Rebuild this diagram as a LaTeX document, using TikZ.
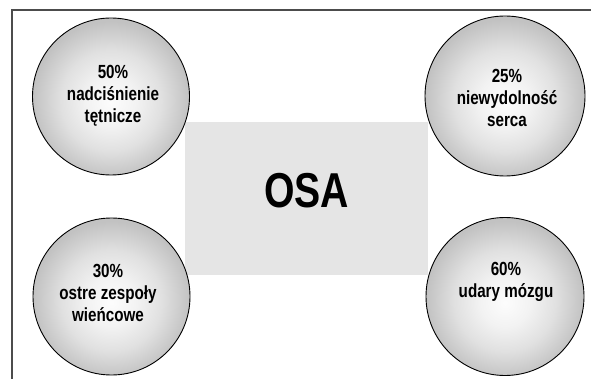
\documentclass[tikz,border=0pt]{standalone}
\usepackage{fontspec}
\setmainfont{Liberation Sans}[FakeStretch=0.8]
\pgfdeclareradialshading{bubbleshade}{\pgfpoint{0bp}{-2bp}}{color(0bp)=(black!1); color(8bp)=(black!5); color(16bp)=(black!12); color(25bp)=(black!24); color(50bp)=(black!24)}
\begin{document}
\begin{tikzpicture}
[x=1pt,y=-1pt,
  bubbledecorate/.style={shape=circle,minimum size=157pt,inner sep=0pt,draw=black,line width=0.9pt,%
    shading=bubbleshade},
  textdecorate/.style={align=center,inner sep=0pt,font=\fontsize{19}{22}\selectfont\bfseries},
  boxdecorate/.style={shape=rectangle,fill=black!10,minimum width=243pt,minimum height=153pt,inner sep=0pt},
  framedecorate/.style={-,line width=1.6pt,draw=black!70}]
\useasboundingbox (0,0) rectangle (591,379);
% frame
\coordinate (fbottom) at (12,379);
\coordinate (fcorner) at (12,10);
\coordinate (fright) at (591,10);
\draw[framedecorate] (fbottom) -- (fcorner) -- (fright);
% central box
\node (osa) at (306.5,198.5) [boxdecorate] {};
\node (osatext) at (306.5,191) [inner sep=0pt,font=\fontsize{49}{49}\selectfont\bfseries] {OSA};
% circles
\node (nadc) at (111,96.5) [bubbledecorate] {};
\node (niew) at (505,96) [bubbledecorate,minimum size=160pt] {};
\node (ostre) at (111.5,296.5) [bubbledecorate] {};
\node (udary) at (505,296.5) [bubbledecorate,minimum size=158pt] {};
% labels
\node (nadctext) at (113,95.5) [textdecorate] {50\%\\nadciśnienie\\tętnicze};
\node (niewtext) at (507,97.5) [textdecorate] {25\%\\niewydolność\\serca};
\node (ostretext) at (108,292.5) [textdecorate] {30\%\\ostre zespoły\\wieńcowe};
\node (udarytext) at (506,282) [textdecorate] {60\%\\udary mózgu};
\end{tikzpicture}
\end{document}
